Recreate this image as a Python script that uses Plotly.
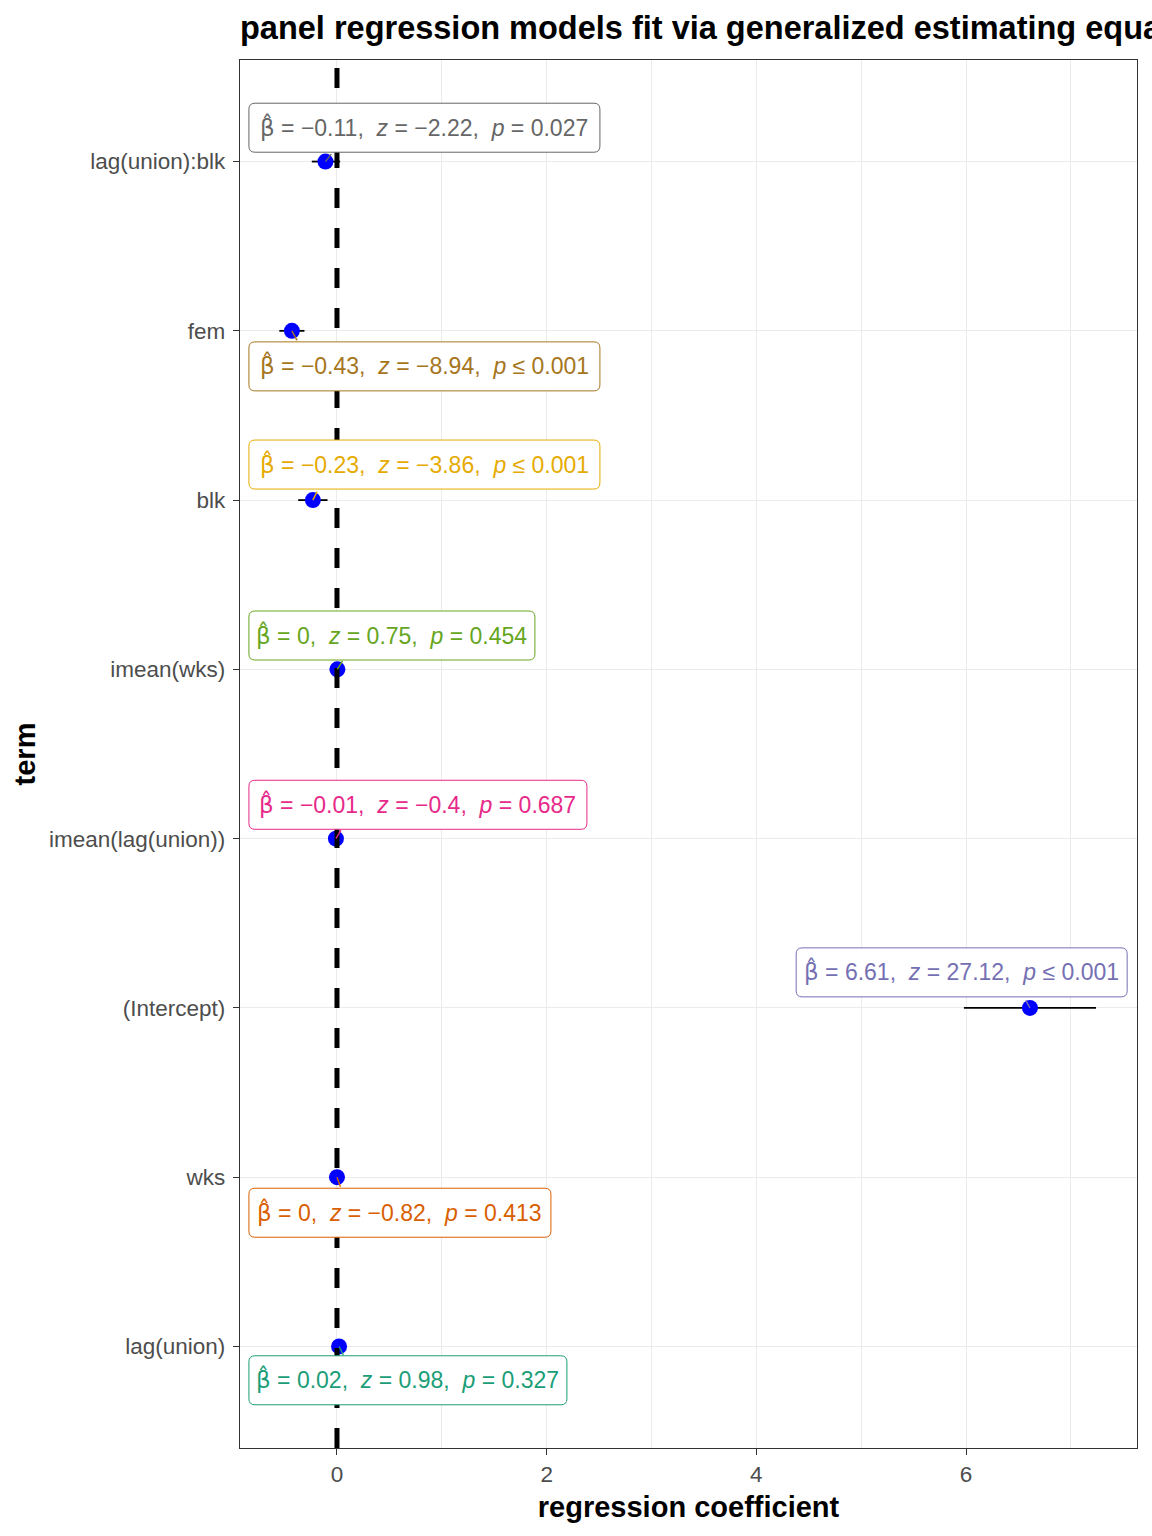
import plotly.graph_objects as go

# ---- data (bottom -> top order on the y axis) ----
terms = ["lag(union)", "wks", "(Intercept)", "imean(lag(union))",
         "imean(wks)", "blk", "fem", "lag(union):blk"]
estimates = [0.02, 0.0, 6.61, -0.01, 0.004, -0.23, -0.43, -0.11]
ci_low = [-0.03, -0.01, 5.98, -0.05, -0.01, -0.37, -0.55, -0.24]
ci_high = [0.07, 0.01, 7.24, 0.03, 0.02, -0.09, -0.31, 0.03]
z_values = [0.98, -0.82, 27.12, -0.4, 0.75, -3.86, -8.94, -2.22]
p_values = [0.327, 0.413, 0.0, 0.687, 0.454, 0.0, 0.0, 0.027]
label_colors = ["#1B9E77", "#D95F02", "#7570B3", "#E7298A",
                "#66A61E", "#E6AB02", "#A6761D", "#666666"]

# label placement (left edge in data x, vertical offset in category units)
label_x = [-0.84, -0.84, 4.38, -0.84, -0.84, -0.84, -0.84, -0.84]
label_dy = [-0.20, -0.21, 0.21, 0.20, 0.20, 0.21, -0.21, 0.20]
# label box widths (pixels)
label_w = [318, 302, 331, 338, 286, 351, 351, 351]
LABEL_H = 49
RADIUS = 6
# connector segment offsets (pixels, from point)
seg_dx = [5, 4, -5, 6, 6, 5, 6, 7]
seg_dy = [10, 11, -9, -10, -10, -10, 11, -9]

title_text = "panel regression models fit via generalized estimating equations"
FONT = "Liberation Sans, Arial, sans-serif"


def fmt_num(v):
    r = round(v, 2)
    if r == 0:
        r = 0.0
    s = f"{r:g}"
    return s.replace("-", "\u2212")


def fmt_p(p):
    if p < 0.001:
        return "\u2264 0.001"
    return f"= {p:.3f}"


def rounded_box(w, h, r):
    hh = h / 2
    return (f"M {r},{-hh} L {w - r},{-hh} Q {w},{-hh} {w},{-hh + r} "
            f"L {w},{hh - r} Q {w},{hh} {w - r},{hh} L {r},{hh} "
            f"Q 0,{hh} 0,{hh - r} L 0,{-hh + r} Q 0,{-hh} {r},{-hh} Z")


fig = go.Figure()

fig.add_trace(go.Scatter(
    x=estimates, y=terms, mode="markers",
    marker=dict(color="#0000FF", size=16, line=dict(width=0)),
    error_x=dict(type="data", symmetric=False,
                 array=[h - e for h, e in zip(ci_high, estimates)],
                 arrayminus=[e - l for e, l in zip(estimates, ci_low)],
                 color="black", thickness=1.8, width=0),
    showlegend=False, hoverinfo="skip",
))

shapes = [dict(type="line", xref="x", yref="paper", x0=0, x1=0, y0=0, y1=1,
               line=dict(color="black", width=5, dash="20px,20px"),
               layer="above")]
annotations = []
sp = "\u00a0"
beta_hat = "<span style=\"font-family:'DejaVu Sans'\">\u03b2\u0302</span>"
for i, t in enumerate(terms):
    txt = (f"{beta_hat} = {fmt_num(estimates[i])},{sp}{sp}<i>z</i> = "
           f"{fmt_num(z_values[i])},{sp}{sp}<i>p</i> {fmt_p(p_values[i])}")
    shapes.append(dict(
        type="path", xref="x", yref="y", xsizemode="pixel", ysizemode="pixel",
        xanchor=label_x[i], yanchor=i + label_dy[i],
        path=rounded_box(label_w[i], LABEL_H, RADIUS),
        line=dict(color=label_colors[i], width=1), fillcolor="white",
        layer="above",
    ))
    annotations.append(dict(
        x=label_x[i], y=i + label_dy[i], xref="x", yref="y",
        xshift=label_w[i] / 2, yshift=1,
        text=txt, showarrow=False, xanchor="center", yanchor="middle",
        font=dict(family=FONT, size=23, color=label_colors[i]),
    ))
    annotations.append(dict(
        x=estimates[i], y=i, xref="x", yref="y", text="",
        showarrow=True, ax=seg_dx[i], ay=seg_dy[i], arrowhead=0,
        arrowwidth=1.4, arrowcolor=label_colors[i], standoff=0,
    ))

fig.update_layout(
    width=1152, height=1536,
    margin=dict(l=240, r=15, t=60, b=88),
    paper_bgcolor="white", plot_bgcolor="white",
    font=dict(family=FONT, color="#4D4D4D"),
    title=dict(text="<b>" + title_text + "</b>", x=240 / 1152, xref="container",
               xanchor="left", y=1 - 28 / 1536, yanchor="middle",
               font=dict(family=FONT, size=32.5, color="black")),
    annotations=annotations,
    shapes=shapes,
)

fig.update_xaxes(
    range=[-0.925, 7.631], tickvals=[0, 2, 4, 6], ticktext=["0", "2", "4", "6"],
    showgrid=True, gridcolor="#EBEBEB", gridwidth=1.2, zeroline=False,
    minor=dict(tickvals=[1, 3, 5, 7], showgrid=True, gridcolor="#EBEBEB",
               gridwidth=0.6, ticks=""),
    showline=True, mirror=True, linecolor="#333333", linewidth=1.3,
    ticks="outside", ticklen=6, tickwidth=1.3, tickcolor="#333333",
    tickfont=dict(family=FONT, size=22.5, color="#4D4D4D"),
    title=dict(text="<b>regression coefficient</b>", standoff=10,
               font=dict(family=FONT, size=29, color="black")),
)
fig.update_yaxes(
    type="category", categoryorder="array", categoryarray=terms,
    range=[-0.6, 7.6],
    showgrid=True, gridcolor="#EBEBEB", gridwidth=1.2, zeroline=False,
    showline=True, mirror=True, linecolor="#333333", linewidth=1.3,
    ticks="outside", ticklen=6, tickwidth=1.3, tickcolor="#333333",
    ticklabelstandoff=3,
    tickfont=dict(family=FONT, size=22.5, color="#4D4D4D"),
    title=dict(text="<b>term</b>", standoff=4,
               font=dict(family=FONT, size=29, color="black")),
)

fig.write_html("out.html")
